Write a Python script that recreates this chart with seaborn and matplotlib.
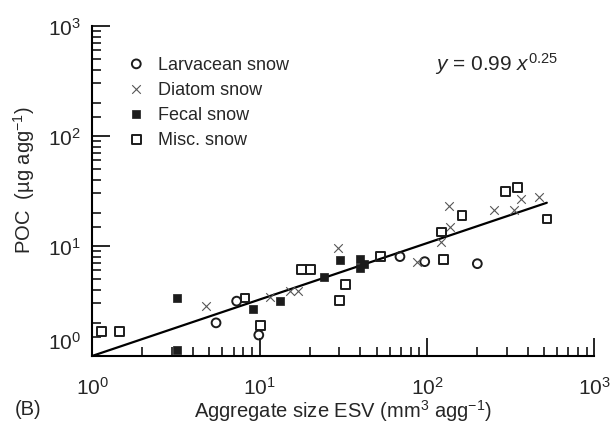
import numpy as np
import pandas as pd
import matplotlib
matplotlib.use("Agg")
import matplotlib.pyplot as plt
import matplotlib.ticker as mticker
import matplotlib.transforms as mtransforms
import seaborn as sns

# ---- data ----
larv_x = [5.5, 7.3, 9.9, 69, 97, 200]
larv_y = [2.0, 3.15, 1.55, 8.0, 7.2, 6.9]
diat_x = [4.8, 11.6, 15.2, 16.9, 29.5, 87, 121, 137, 135, 251, 330, 367, 466]
diat_y = [2.87, 3.42, 3.93, 3.93, 9.5, 7.1, 10.8, 14.8, 23.3, 21.3, 21.3, 26.8, 27.8]
fecal_x = [3.2, 3.2, 9.2, 13.3, 24.4, 30.4, 40.1, 40.1, 42.3]
fecal_y = [3.37, 1.14, 2.69, 3.19, 5.27, 7.43, 7.55, 6.32, 6.8]
misc_x = [1.14, 1.46, 8.2, 10.1, 17.9, 20.1, 32.8, 30.1, 53, 126, 122, 162, 294, 346, 522]
misc_y = [1.66, 1.66, 3.37, 1.89, 6.1, 6.1, 4.46, 3.17, 7.96, 7.47, 13.4, 18.8, 31.5, 33.8, 17.6]
fit_x = [1, 520]
fit_y = [1.0, 24.7]
labels = ["Larvacean snow", "Diatom snow", "Fecal snow", "Misc. snow"]
major_ticks = [1, 10, 100, 1000]

sns.set_style("ticks")
plt.rcParams["font.family"] = ["Liberation Sans", "DejaVu Sans"]
plt.rcParams["mathtext.fontset"] = "custom"
plt.rcParams["mathtext.rm"] = "Liberation Sans"
plt.rcParams["mathtext.it"] = "Liberation Sans:italic"
plt.rcParams["mathtext.default"] = "regular"

fig = plt.figure(figsize=(6.14, 4.27), dpi=100)
ax = fig.add_axes([0.150, 0.164, 0.818, 0.773])
ax.set_xscale("log")
ax.set_yscale("log")

dark = "#1c1c1c"
sets = [
    (larv_x, larv_y, labels[0], dict(marker="o", s=40, facecolor="none", edgecolor=dark, linewidth=1.4)),
    (diat_x, diat_y, labels[1], dict(marker="x", s=38, color="#555555", linewidth=0.8)),
    (fecal_x, fecal_y, labels[2], dict(marker="s", s=36, color=dark, edgecolor=dark, linewidth=0.5)),
    (misc_x, misc_y, labels[3], dict(marker="s", s=40, facecolor="none", edgecolor=dark, linewidth=1.4)),
]
for xs, ys, lab, kw in sets:
    df = pd.DataFrame({"x": xs, "y": ys})
    sns.scatterplot(data=df, x="x", y="y", ax=ax, label=lab, zorder=3, clip_on=False, **kw)

sns.lineplot(x=fit_x, y=fit_y, ax=ax, color="black", linewidth=1.6, legend=False, zorder=2)

ax.set_xlim(1, 1000)
ax.set_ylim(1, 1000)

ax.xaxis.set_major_locator(mticker.FixedLocator(major_ticks))
ax.yaxis.set_major_locator(mticker.FixedLocator(major_ticks))
ax.xaxis.set_major_formatter(mticker.LogFormatterSciNotation())
ax.yaxis.set_major_formatter(mticker.LogFormatterSciNotation())
ax.xaxis.set_minor_locator(mticker.LogLocator(base=10, subs=[2, 3, 4, 5, 6, 7, 8, 9]))
ax.yaxis.set_minor_locator(mticker.LogLocator(base=10, subs=[1.5, 2, 3, 4, 5, 6, 7, 8, 9]))
ax.xaxis.set_minor_formatter(mticker.NullFormatter())
ax.yaxis.set_minor_formatter(mticker.NullFormatter())

sns.despine(ax=ax)
for sp in ["left", "bottom"]:
    ax.spines[sp].set_linewidth(1.5)
    ax.spines[sp].set_color("black")
ax.tick_params(which="major", direction="in", length=13, width=1.2, labelsize=15, color="black")
ax.tick_params(which="minor", direction="in", length=6.5, width=1.1, color="black")
ax.tick_params(axis="x", which="major", pad=14)
ax.tick_params(axis="y", which="major", pad=8)

ax.set_xlabel("Aggregate size ESV (mm$^{3}$ agg$^{-1}$)", fontsize=14.5)
ax.set_ylabel("POC  (µg agg$^{-1}$)", fontsize=14.5)
ax.xaxis.set_label_coords(0.5, -0.125)
ax.yaxis.set_label_coords(-0.11, 0.536)

ax.text(0.683, 0.888, "$\\mathit{y}$ = 0.99 $\\mathit{x}^{0.25}$", transform=ax.transAxes,
        fontsize=15, va="center", ha="left")
fig.text(15 / 614, 1 - 410 / 427, "(B)", fontsize=14.5, va="center", ha="left")

leg = ax.legend(loc="upper left", bbox_to_anchor=(0.07, 0.91), frameon=False,
                fontsize=13, handlelength=1.0, handletextpad=0.7, labelspacing=0.45,
                borderpad=0, borderaxespad=0)

# shift the 10^0 y label slightly up as in the reference
t0 = ax.yaxis.get_major_ticks()[0]
t0.label1.set_transform(t0.label1.get_transform() +
                        mtransforms.ScaledTranslation(0, 16 / 100, fig.dpi_scale_trans))

fig.savefig("out.png", dpi=100)
